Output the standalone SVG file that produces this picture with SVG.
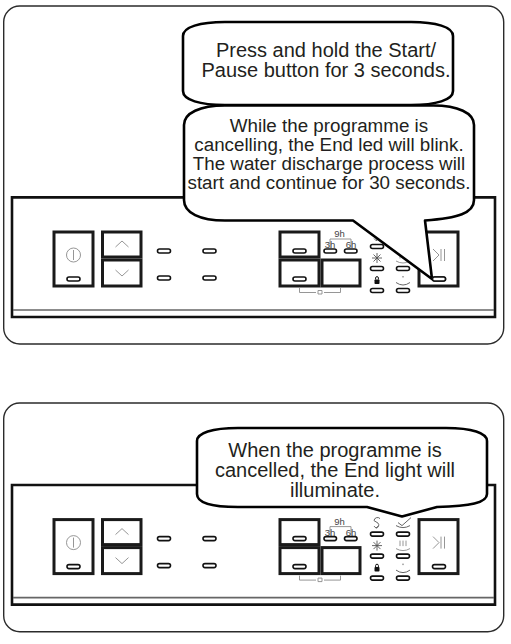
<svg xmlns="http://www.w3.org/2000/svg" width="511" height="644" viewBox="0 0 511 644">
<style>
.frame{fill:none;stroke:#2b2b2b;stroke-width:1.4}
.con{fill:none;stroke:#111;stroke-width:2.6}
.grey{stroke:#666;stroke-width:1.6;fill:none}
.btn{fill:#fff;stroke:#1a1a1a;stroke-width:3}
.led{fill:#fff;stroke:#111;stroke-width:1.6}
.ic{fill:none;stroke:#8a8a8a;stroke-width:.9}
.icd{fill:none;stroke:#555;stroke-width:.9}
.bub{fill:#fff;stroke:#000;stroke-width:2.6;stroke-linejoin:round}
.t{font-family:"Liberation Sans",Arial,sans-serif;font-size:20px;fill:#231f20;text-anchor:middle}
.m{font-size:18.800px}
.s{font-family:"Liberation Sans",Arial,sans-serif;font-size:9.500px;fill:#444;text-anchor:middle}
</style>
<defs>
<rect id="l" class="led" x="-6.500" y="-2" width="13" height="4" rx="2"/>
<g id="console">
<path class="con" d="M12,197.400H495V317H12Z"/>
<path class="grey" d="M13,310H494"/>
<rect class="btn" x="54" y="232" width="39" height="54"/>
<circle class="ic" cx="73.500" cy="255" r="7"/><path class="ic" d="M73.500,250V260"/>
<use href="#l" x="73.500" y="279"/>
<rect class="btn" x="102.500" y="232" width="38.500" height="25"/>
<rect class="btn" x="102.500" y="260" width="38.500" height="26"/>
<path class="ic" d="M115.500,247L122,241L128.500,247M115.500,270L122,276L128.500,270"/>
<use href="#l" x="164" y="251"/><use href="#l" x="209.500" y="251"/>
<use href="#l" x="164" y="278"/><use href="#l" x="209.500" y="278"/>
<rect class="btn" x="280" y="232" width="39" height="25"/>
<rect class="btn" x="280" y="260" width="39" height="26"/>
<rect class="btn" x="322" y="260" width="38" height="26"/>
<use href="#l" x="299.500" y="251"/><use href="#l" x="299.500" y="279"/>
<path class="ic" d="M330,248V239H351V248M299.500,288V292.500H316M324,292.500H340.500V288"/>
<path class="ic" d="M318,294H322V290.500H318Z"/>
<text class="s" x="339.500" y="237">9h</text>
<text class="s" x="330" y="248">3h</text>
<text class="s" x="351" y="248">6h</text>
<rect class="led" x="324" y="249" width="12.500" height="4" rx="2"/>
<rect class="led" x="344.500" y="249" width="12.500" height="4" rx="2"/>
<path class="icd" d="M380,231A3.500,3.500 0 0 0 374,233L378,235.500A3,3 0 0 1 376,240.500M374,238.500L376,240.500L378,238.500"/>
<path class="icd" d="M396,238Q403,242 410,238M398,235L402,238L411,230"/>
<use href="#l" x="377" y="246.500"/><use href="#l" x="403" y="246.500"/>
<path class="icd" d="M377,253V263M372,258H382M373.500,254.500L380.500,261.500M380.500,254.500L373.500,261.500"/>
<path class="ic" d="M396,261Q403,265 410,261M400,253V258.500M403,253V258.500M406,253V258.500"/>
<use href="#l" x="377" y="268.500"/><use href="#l" x="403" y="268.500"/>
<rect x="374.500" y="279.500" width="5" height="4.500" rx=".8" fill="#111"/><path d="M375.600,279.500V278A1.400,1.400 0 0 1 378.400,278V279.500" fill="none" stroke="#111" stroke-width="1"/>
<path class="icd" d="M396,282.500Q403,287.500 410,282.500M403,276V277.500"/>
<use href="#l" x="377" y="290.500"/><use href="#l" x="403" y="290.500"/>
<rect class="btn" x="419" y="232" width="39" height="54"/>
<path class="ic" d="M433,249L439,255L433,261M441,249V261M444.500,249V261"/>
<use href="#l" x="439" y="279"/>
</g>
</defs>
<g id="panel-top">
<rect class="frame" x="3.700" y="6" width="500" height="338" rx="16"/>
<use href="#console"/>
</g>
<g id="bubble-press">
<path class="bub" d="M183,36C183,27 200,22 225,22H411C436,22 453,27 453,36V91C453,100 436,105 411,105H225C200,105 183,100 183,91Z"/>
<text class="t" x="326" y="56.700">Press and hold the Start/</text>
<text class="t" x="326" y="77">Pause button for 3 seconds.</text>
</g>
<g id="bubble-cancelling">
<path class="bub" d="M184,125C184,113 200,105.500 225,105.500H433C458,105.500 474,113 474,125V200C474,213 458,218 425,220.500L432,279L353,220.500H225C200,220.500 184,213 184,200Z"/>
<text class="t m" x="329" y="131.700">While the programme is</text>
<text class="t m" x="329" y="150.700">cancelling, the End led will blink.</text>
<text class="t m" x="329" y="170">The water discharge process will</text>
<text class="t m" x="329" y="189">start and continue for 30 seconds.</text>
<use href="#l" x="439" y="279"/>
</g>
<g id="panel-bottom">
<rect class="frame" x="3.700" y="403" width="500" height="228.700" rx="16"/>
<use href="#console" transform="translate(0,287.600)"/>
</g>
<g id="bubble-cancelled">
<path class="bub" d="M197,441C197,433 212,428 238,428H446C472,428 487,433 487,441V494C487,503 470,506 437,507L402,516.500L367,507H238C212,507 197,503 197,494Z"/>
<text class="t" x="335" y="456.700">When the programme is</text>
<text class="t" x="335" y="477">cancelled, the End light will</text>
<text class="t" x="335" y="497">illuminate.</text>
</g>
<g id="connectors"></g>
</svg>
